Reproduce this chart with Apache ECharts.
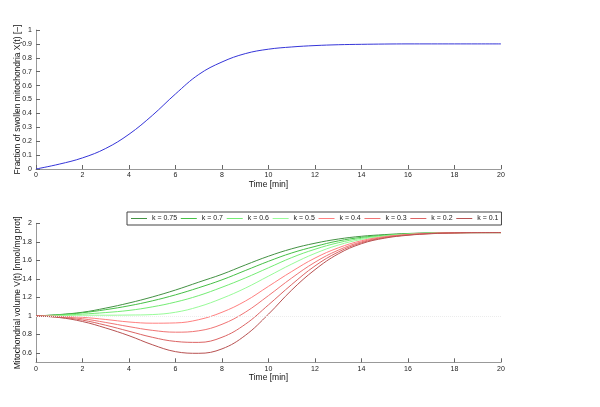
<!DOCTYPE html>
<html>
<head>
<meta charset="utf-8">
<script src="https://cdn.jsdelivr.net/npm/echarts@6/dist/echarts.min.js"></script>
<style>
html,body{margin:0;padding:0;background:#fff;}
#c{width:600px;height:407px;}
</style>
</head>
<body>
<div id="c"></div>
<script>
// ---- data ----
var time = [0,1,2,3,4,5,6,7,8,9,10,11,12,13,14,15,16,17,18,19,20];
var swollenX = [0,0.035,0.08,0.148,0.25,0.385,0.54,0.68,0.77,0.83,0.862,0.878,0.888,0.894,0.897,0.899,0.9,0.9,0.9,0.9,0.9];
var kLabels = ['k = 0.75','k = 0.7','k = 0.6','k = 0.5','k = 0.4','k = 0.3','k = 0.2','k = 0.1'];
var k075 = [1,1.015,1.04,1.085,1.14,1.205,1.28,1.365,1.45,1.55,1.645,1.725,1.785,1.83,1.86,1.878,1.89,1.896,1.899,1.9,1.9];
var k07  = [1,1.013,1.035,1.068,1.11,1.163,1.228,1.305,1.39,1.49,1.59,1.68,1.75,1.81,1.848,1.872,1.887,1.895,1.899,1.9,1.9];
var k06  = [1,1.008,1.02,1.037,1.06,1.098,1.15,1.22,1.31,1.41,1.52,1.63,1.72,1.79,1.838,1.867,1.884,1.894,1.898,1.9,1.9];
var k05  = [1,1.004,1.008,1.008,1.01,1.015,1.04,1.1,1.19,1.3,1.43,1.56,1.675,1.765,1.826,1.862,1.882,1.893,1.898,1.9,1.9];
var k04  = [1,0.996,0.985,0.962,0.935,0.922,0.925,0.96,1.04,1.16,1.32,1.48,1.625,1.735,1.812,1.856,1.879,1.892,1.898,1.9,1.9];
var k03  = [1,0.992,0.97,0.93,0.885,0.845,0.825,0.84,0.91,1.04,1.22,1.41,1.58,1.71,1.8,1.85,1.877,1.891,1.897,1.9,1.9];
var k02  = [1,0.987,0.955,0.9,0.835,0.77,0.725,0.715,0.77,0.91,1.12,1.34,1.54,1.69,1.79,1.845,1.874,1.889,1.897,1.9,1.9];
var k01  = [1,0.983,0.94,0.87,0.787,0.69,0.615,0.597,0.645,0.79,1.02,1.28,1.5,1.67,1.78,1.84,1.871,1.888,1.896,1.899,1.9];
var kSeries = [k075,k07,k06,k05,k04,k03,k02,k01];
var yTicksTop = [0,0.1,0.2,0.3,0.4,0.5,0.6,0.7,0.8,0.9,1];
var yTicksBottom = [0.6,0.8,1,1.2,1.4,1.6,1.8,2];

// ---- styles ----
var kColors = ['#449244','#46c046','#74ec74','#98fb98','#ff8080','#f07474','#dc6464','#b85252'];
var font = 'Liberation Sans, Arial, Helvetica, sans-serif';
var axisGray = '#999999';

function pairs(ys){ return time.map(function(t,i){ return [t, ys[i]]; }); }

function xAxisCfg(idx){
  return {
    type:'value', gridIndex: idx, min:0, max:20, interval:2,
    name:'Time [min]', nameLocation:'middle', nameGap:11,
    nameTextStyle:{fontFamily:font,fontSize:8.5,color:'#111'},
    axisLine:{show:true,lineStyle:{color:axisGray,width:1}},
    axisTick:{show:true,inside:true,length:4,lineStyle:{color:'#666'}},
    axisLabel:{fontFamily:font,fontSize:7,color:'#222',margin:3},
    splitLine:{show:false}
  };
}

var series = [{
  type:'line', xAxisIndex:0, yAxisIndex:0, data:pairs(swollenX),
  smooth:0.4, symbol:'none',
  lineStyle:{color:'#3535d8',width:1}, silent:true
}];
kSeries.forEach(function(arr,i){
  series.push({
    type:'line', name:kLabels[i], xAxisIndex:1, yAxisIndex:1, data:pairs(arr),
    smooth:0.4, symbol:'none', showSymbol:false,
    lineStyle:{color:kColors[i],width:1}, itemStyle:{color:kColors[i]},
    markLine: i===0 ? {
      silent:true, symbol:'none', label:{show:false},
      lineStyle:{color:'#ececec',type:'dotted',width:1},
      data:[{yAxis:1}]
    } : undefined
  });
});

var chart = echarts.init(document.getElementById('c'), null, {renderer:'canvas'});
chart.setOption({
  animation:false,
  backgroundColor:'#fff',
  grid:[
    {left:36, right:99, top:30, height:139},
    {left:36, right:99, top:223.3, height:139}
  ],
  xAxis:[xAxisCfg(0), xAxisCfg(1)],
  yAxis:[
    {
      type:'value', gridIndex:0, min:0, max:1, interval:0.1,
      name:'Fraction of swollen mitochondria X(t) [–]', nameLocation:'middle', nameGap:14,
      nameMoveOverlap:false,
      nameTextStyle:{fontFamily:font,fontSize:8.5,color:'#111'},
      axisLine:{show:true,lineStyle:{color:axisGray,width:1}},
      axisTick:{show:true,inside:true,length:4,lineStyle:{color:'#666'}},
      axisLabel:{fontFamily:font,fontSize:7,color:'#222',margin:4,
        customValues: yTicksTop},
      splitLine:{show:false}
    },
    {
      type:'value', gridIndex:1, min:0.5, max:2,
      name:'Mitochondrial volume V(t) [nmol/mg prot]', nameLocation:'middle', nameGap:14,
      nameMoveOverlap:false,
      nameTextStyle:{fontFamily:font,fontSize:8.5,color:'#111'},
      axisLine:{show:true,lineStyle:{color:axisGray,width:1}},
      axisTick:{show:true,inside:true,length:4,lineStyle:{color:'#666'},customValues:yTicksBottom},
      axisLabel:{fontFamily:font,fontSize:7,color:'#222',margin:4,customValues:yTicksBottom,
        formatter:function(v){ return String(Math.round(v*10)/10); }},
      splitLine:{show:false}
    }
  ],
  legend:{
    data:kLabels, left:127, top:212, orient:'horizontal',
    icon:'rect', itemWidth:16, itemHeight:1, itemGap:3.7,
    padding:[3,3,3,4],
    borderColor:'#444', borderWidth:1, backgroundColor:'#fff',
    textStyle:{fontFamily:font,fontSize:7,color:'#222'},
    selectedMode:false
  },
  series:series
});
</script>
</body>
</html>
